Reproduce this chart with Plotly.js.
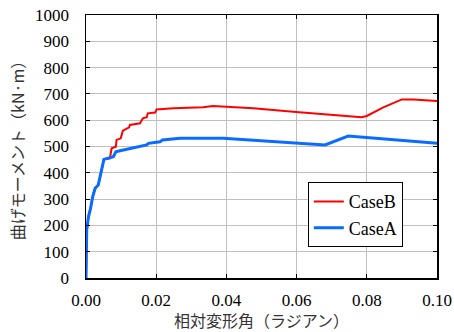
<!DOCTYPE html>
<html><head><meta charset="utf-8">
<script src="https://cdn.plot.ly/plotly-3.0.1.min.js"></script>
<style>html,body{margin:0;padding:0;background:#fff}#c{width:454px;height:332px}
.xtick text, .ytick text, .legendtext {font-family: 'Liberation Serif', 'Times New Roman', serif !important;}
</style>
</head><body><div id="c"></div>
<script>
const caseB_x = [0.0051, 0.0068, 0.0073, 0.0085, 0.0087, 0.0099, 0.0105, 0.0123, 0.0125, 0.0154, 0.0162, 0.0173, 0.0176, 0.0197, 0.0201, 0.0249, 0.0287, 0.0334, 0.0361, 0.0477, 0.059, 0.0705, 0.0785, 0.080, 0.0847, 0.090, 0.0933, 0.100];
const caseB_y = [451, 455, 493, 499, 525, 531, 560, 573, 582, 588, 607, 611, 626, 629, 641, 645, 646, 649, 654, 645, 632, 620, 611, 616, 649, 679, 679, 673];
const caseA_x = [0, 0.0001, 0.0002, 0.0007, 0.0013, 0.0019, 0.0026, 0.0035, 0.004, 0.0045, 0.0051, 0.0078, 0.0085, 0.0097, 0.0173, 0.0178, 0.0211, 0.0218, 0.0268, 0.0391, 0.0496, 0.0681, 0.0747, 0.100];
const caseA_y = [0, 106, 182, 233, 265, 309, 341, 354, 385, 417, 451, 461, 480, 484, 506, 512, 518, 525, 531, 531, 522, 506, 540, 512];
const caseB_prefix_x = caseA_x.slice(0, 11);
const caseB_prefix_y = caseA_y.slice(0, 11);
const xTicks = [0, 0.02, 0.04, 0.06, 0.08, 0.10];
const xTickText = ['0.00', '0.02', '0.04', '0.06', '0.08', '0.10'];
const yTicks = [0, 100, 200, 300, 400, 500, 600, 700, 800, 900, 1000];

const serif = 'Liberation Serif';
const jp = 'Noto Sans CJK JP';

const traces = [
  {x: caseB_prefix_x.concat(caseB_x), y: caseB_prefix_y.concat(caseB_y), mode: 'lines', name: 'CaseB',
   line: {color: '#ff0000', width: 2}},
  {x: caseA_x, y: caseA_y, mode: 'lines', name: 'CaseA',
   line: {color: '#0a6cff', width: 3}}
];
const layout = {
  width: 454, height: 332,
  margin: {l: 86, r: 17, t: 15, b: 54},
  paper_bgcolor: '#fff', plot_bgcolor: '#fff',
  font: {family: serif},
  showlegend: true,
  legend: {x: 0.632, y: 0.364, xanchor: 'left', yanchor: 'top',
    bgcolor: '#fff', bordercolor: '#000', borderwidth: 1,
    font: {family: serif, size: 18, color: '#000'}, tracegroupgap: 4},
  xaxis: {range: [0, 0.1], tickvals: xTicks, ticktext: xTickText,
    showgrid: true, gridcolor: '#bfbfbf', gridwidth: 1,
    showline: true, linecolor: '#000', linewidth: 1.5, mirror: 'ticks',
    ticks: 'inside', ticklen: 4, tickcolor: '#000',
    zeroline: false, ticklabelstandoff: 6,
    tickfont: {family: serif, size: 17, color: '#000'},
    title: {text: '相対変形角（ラジアン）', font: {family: jp, size: 16, color: '#333'}, standoff: 6}},
  yaxis: {range: [0, 1000], tickvals: yTicks,
    showgrid: true, gridcolor: '#bfbfbf', gridwidth: 1,
    showline: true, linecolor: '#000', linewidth: 1.5, mirror: 'ticks',
    ticks: 'inside', ticklen: 4, tickcolor: '#000',
    zeroline: false, ticklabelstandoff: 12,
    tickfont: {family: serif, size: 17, color: '#000'},
    title: {text: '曲げモーメント（kN·m）', font: {family: jp, size: 16, color: '#333'}, standoff: 6}}
};
Plotly.newPlot('c', traces, layout, {displayModeBar: false, staticPlot: true});
</script></body></html>
